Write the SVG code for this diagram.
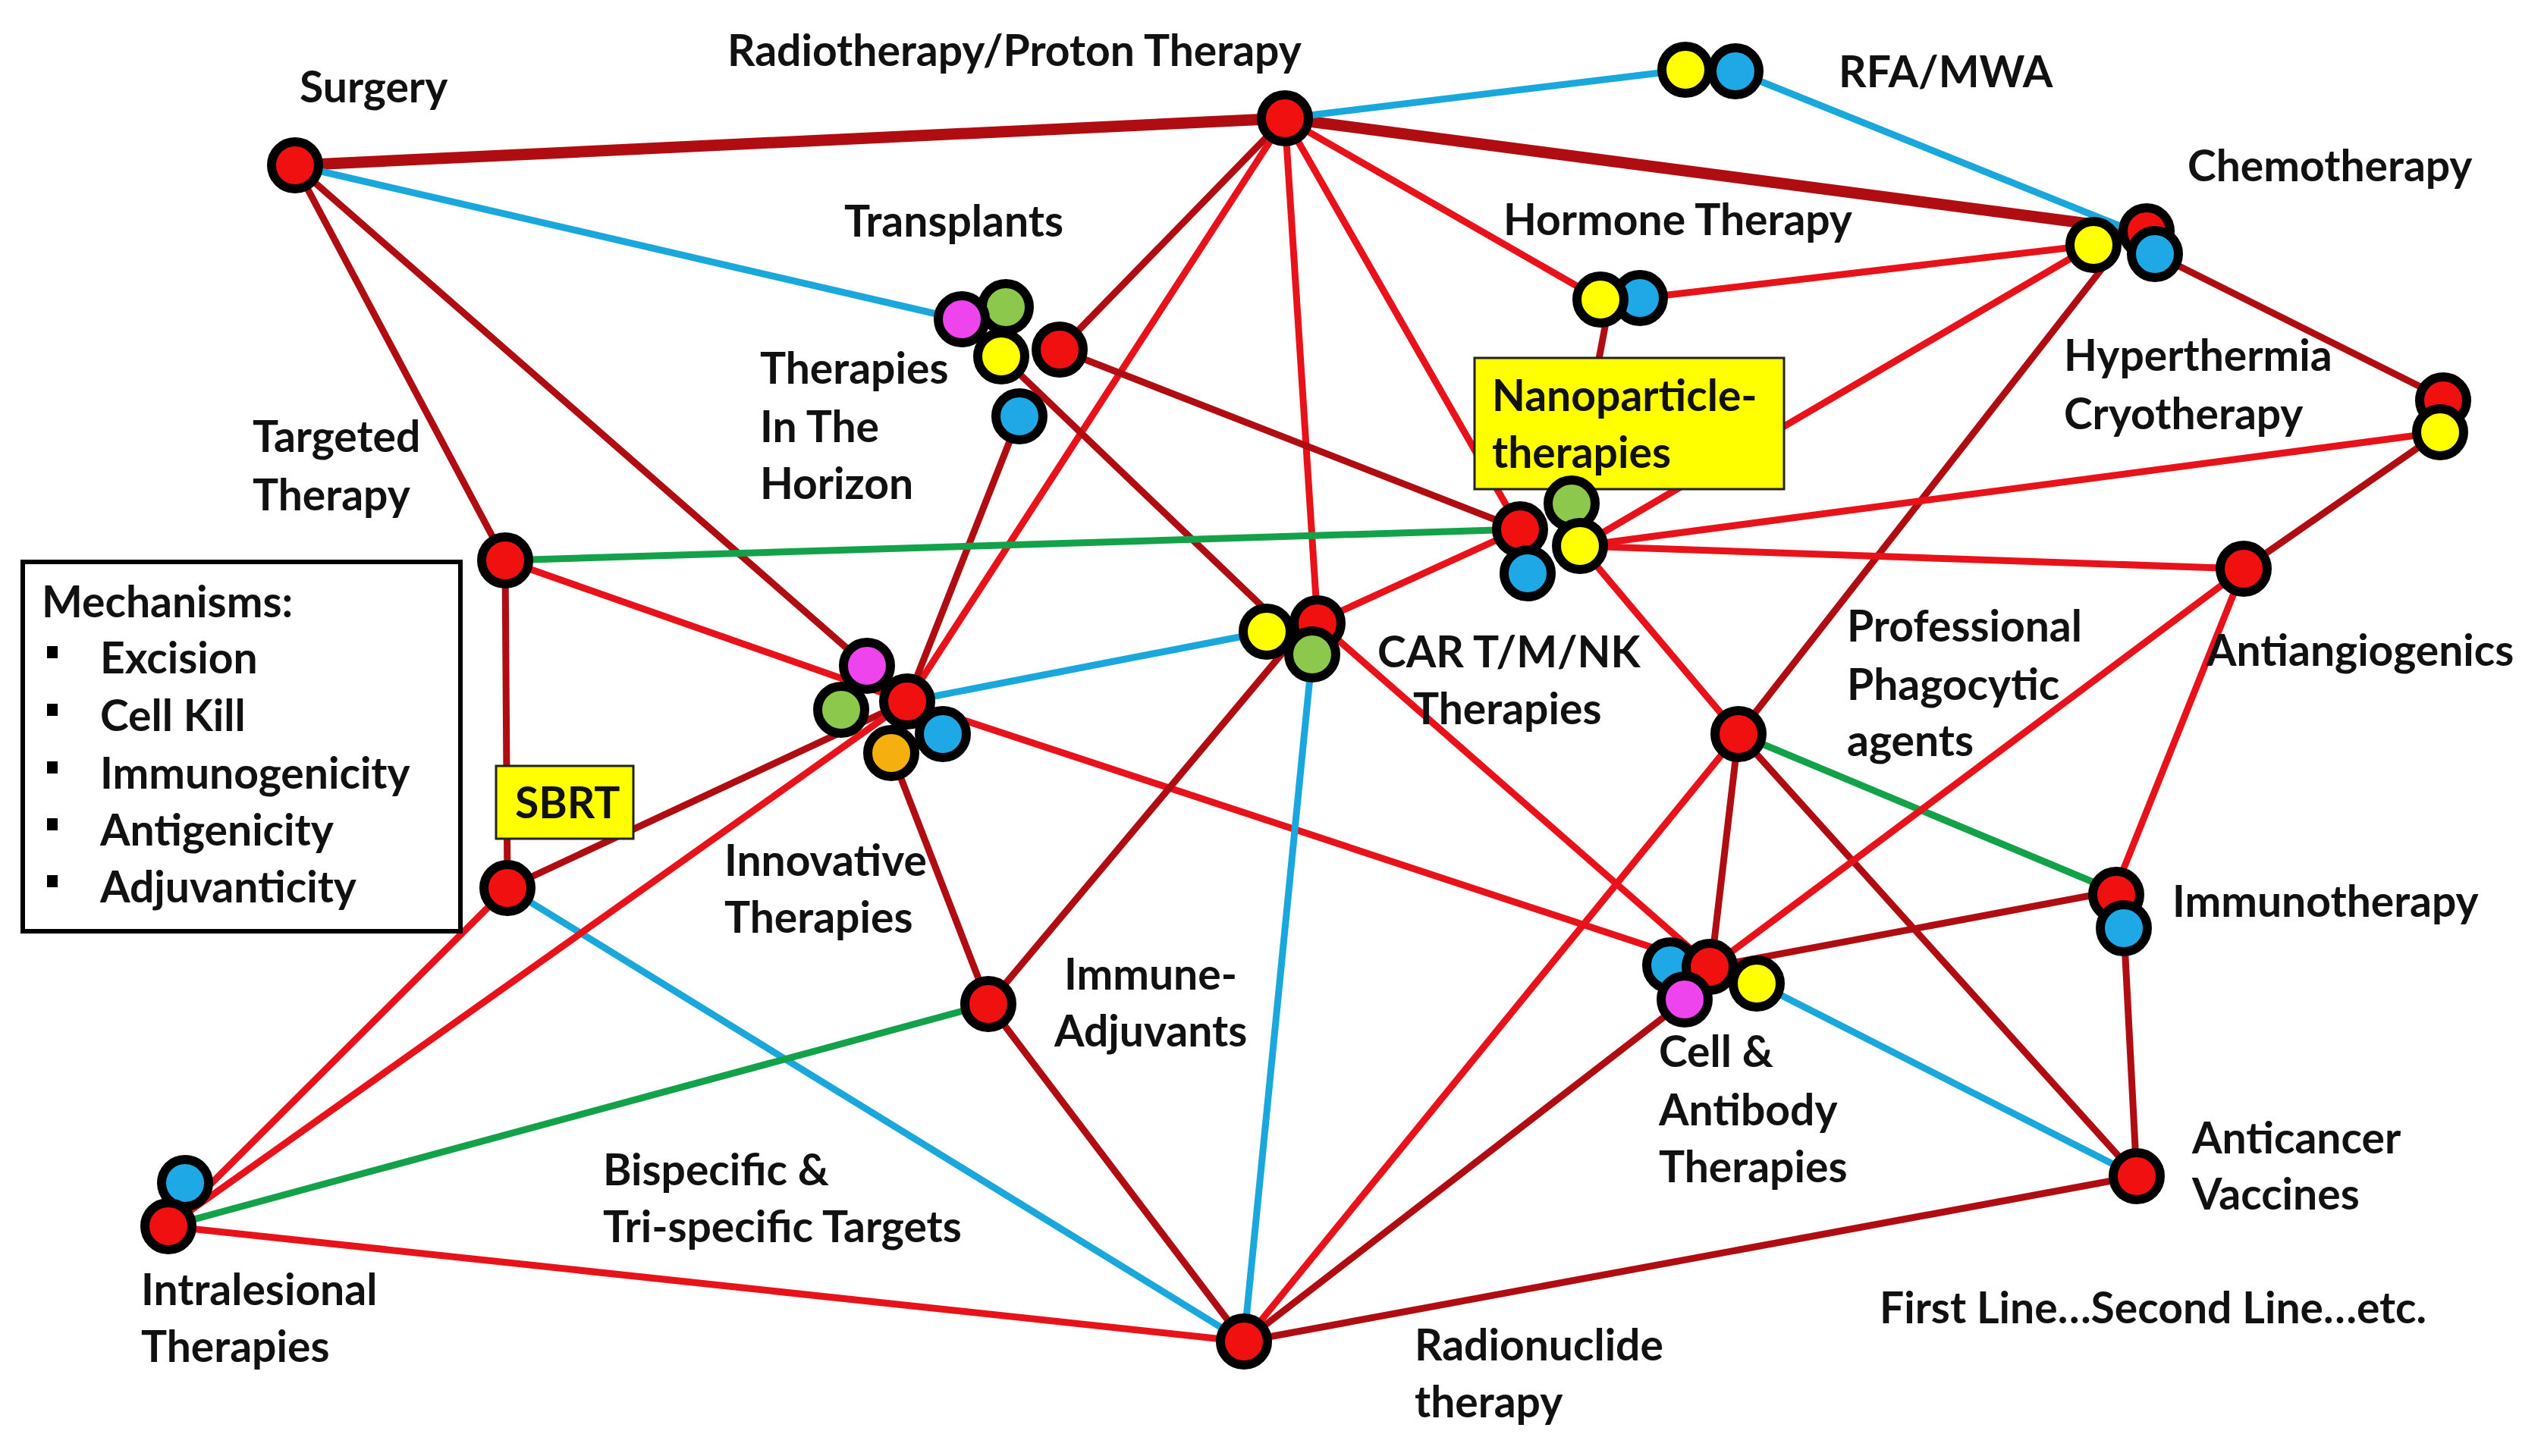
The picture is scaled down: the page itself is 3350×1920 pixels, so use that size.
<svg xmlns="http://www.w3.org/2000/svg" width="3350" height="1920" viewBox="0 0 3350 1920">
<style>
text{font-family:Lato,"Liberation Sans",sans-serif;font-weight:bold;font-size:57px;fill:#111}
.r{stroke:#e8131a;stroke-width:9;fill:none}
.d{stroke:#b00d12;stroke-width:9;fill:none}
.t{stroke:#b00d12;stroke-width:15;fill:none}
.b{stroke:#1aa8dc;stroke-width:9;fill:none}
.g{stroke:#13a24a;stroke-width:9;fill:none}
circle{stroke:#000;stroke-width:12}
.cr{fill:#f01010}.cy{fill:#ffff00}.cb{fill:#1ea9e6}.cg{fill:#8cc84b}.cm{fill:#ee44ee}.co{fill:#f5b010}
.box{fill:#ffff00;stroke:#222;stroke-width:3}
</style>
<rect width="3350" height="1920" fill="#fff"/>
<g id="connectors">
<line class="t" x1="389" y1="218" x2="1694" y2="156"/>
<line class="t" x1="1694" y1="156" x2="2830" y2="305"/>
<line class="b" x1="389" y1="218" x2="1265" y2="421"/>
<line class="d" x1="389" y1="218" x2="666" y2="739"/>
<line class="d" x1="389" y1="218" x2="1143" y2="878"/>
<line class="b" x1="1694" y1="156" x2="2222" y2="92"/>
<line class="b" x1="2288" y1="94" x2="2800" y2="300"/>
<line class="r" x1="1694" y1="156" x2="2110" y2="395"/>
<line class="d" x1="1694" y1="156" x2="1397" y2="461"/>
<line class="r" x1="1694" y1="156" x2="1196" y2="925"/>
<line class="r" x1="1694" y1="156" x2="1737" y2="820"/>
<line class="r" x1="1694" y1="156" x2="2004" y2="698"/>
<line class="r" x1="2164" y1="393" x2="2760" y2="323"/>
<line class="d" x1="2120" y1="410" x2="2072" y2="664"/>
<line class="r" x1="2760" y1="323" x2="2083" y2="720"/>
<line class="d" x1="2790" y1="330" x2="2292" y2="968"/>
<line class="d" x1="2841" y1="335" x2="3221" y2="525"/>
<line class="r" x1="3217" y1="570" x2="2083" y2="720"/>
<line class="d" x1="3217" y1="570" x2="2958" y2="750"/>
<line class="d" x1="1320" y1="470" x2="1730" y2="863"/>
<line class="d" x1="1397" y1="461" x2="2004" y2="698"/>
<line class="d" x1="1344" y1="549" x2="1196" y2="925"/>
<line class="g" x1="666" y1="739" x2="2004" y2="698"/>
<line class="d" x1="666" y1="739" x2="669" y2="1171"/>
<line class="r" x1="666" y1="739" x2="1196" y2="925"/>
<line class="r" x1="1196" y1="925" x2="2256" y2="1275"/>
<line class="d" x1="669" y1="1171" x2="1196" y2="925"/>
<line class="r" x1="669" y1="1171" x2="222" y2="1617"/>
<line class="b" x1="669" y1="1171" x2="1640" y2="1769"/>
<line class="b" x1="1196" y1="925" x2="1670" y2="833"/>
<line class="d" x1="1175" y1="993" x2="1303" y2="1324"/>
<line class="r" x1="1196" y1="925" x2="222" y2="1617"/>
<line class="r" x1="1737" y1="820" x2="2004" y2="698"/>
<line class="d" x1="1700" y1="850" x2="1303" y2="1324"/>
<line class="b" x1="1730" y1="863" x2="1640" y2="1769"/>
<line class="r" x1="1737" y1="820" x2="2256" y2="1275"/>
<line class="r" x1="2083" y1="720" x2="2958" y2="750"/>
<line class="r" x1="2083" y1="720" x2="2292" y2="968"/>
<line class="g" x1="2292" y1="968" x2="2788" y2="1175"/>
<line class="d" x1="2292" y1="968" x2="2256" y2="1275"/>
<line class="r" x1="2292" y1="968" x2="1640" y2="1769"/>
<line class="d" x1="2292" y1="968" x2="2817" y2="1551"/>
<line class="r" x1="2958" y1="750" x2="2256" y2="1275"/>
<line class="r" x1="2958" y1="750" x2="2788" y2="1175"/>
<line class="d" x1="2788" y1="1175" x2="2256" y2="1275"/>
<line class="d" x1="2800" y1="1224" x2="2817" y2="1551"/>
<line class="b" x1="2318" y1="1297" x2="2817" y2="1551"/>
<line class="d" x1="2221" y1="1320" x2="1640" y2="1769"/>
<line class="d" x1="2817" y1="1551" x2="1640" y2="1769"/>
<line class="g" x1="1303" y1="1324" x2="222" y2="1617"/>
<line class="d" x1="1303" y1="1324" x2="1640" y2="1769"/>
<line class="r" x1="222" y1="1617" x2="1640" y2="1769"/>
</g>
<g id="legend">
<rect x="30" y="741" width="577" height="487" fill="#fff" stroke="#000" stroke-width="6"/>
<text x="55" y="814">Mechanisms:</text>
<rect x="62" y="852" width="14" height="16" fill="#000"/><text x="132" y="888">Excision</text>
<rect x="62" y="928" width="14" height="16" fill="#000"/><text x="132" y="964">Cell Kill</text>
<rect x="62" y="1004" width="14" height="16" fill="#000"/><text x="132" y="1040">Immunogenicity</text>
<rect x="62" y="1079" width="14" height="16" fill="#000"/><text x="132" y="1115">Antigenicity</text>
<rect x="62" y="1154" width="14" height="16" fill="#000"/><text x="132" y="1190">Adjuvanticity</text>
</g>
<g id="surgery"><circle class="cr" cx="389" cy="218" r="31"/><text x="395" y="135">Surgery</text></g>
<g id="radiotherapy"><circle class="cr" cx="1694" cy="156" r="31"/><text x="959" y="87">Radiotherapy/Proton Therapy</text></g>
<g id="rfa"><circle class="cy" cx="2222" cy="92" r="31"/><circle class="cb" cx="2288" cy="94" r="31"/><text x="2424" y="115">RFA/MWA</text></g>
<g id="chemo"><circle class="cr" cx="2830" cy="305" r="31"/><circle class="cy" cx="2760" cy="323" r="31"/><circle class="cb" cx="2841" cy="335" r="31"/><text x="2884" y="239">Chemotherapy</text></g>
<g id="hormone"><circle class="cb" cx="2162" cy="393" r="31"/><circle class="cy" cx="2110" cy="395" r="31"/><text x="1982" y="310">Hormone Therapy</text></g>
<g id="hyperthermia"><circle class="cr" cx="3221" cy="528" r="31"/><circle class="cy" cx="3217" cy="570" r="31"/><text x="2721" y="489">Hyperthermia</text><text x="2721" y="566">Cryotherapy</text></g>
<g id="transplants"><circle class="cg" cx="1326" cy="405" r="31"/><circle class="cm" cx="1268" cy="421" r="31"/><circle class="cr" cx="1397" cy="461" r="31"/><circle class="cy" cx="1320" cy="470" r="31"/><circle class="cb" cx="1344" cy="549" r="31"/><text x="1113" y="312">Transplants</text><text x="1002" y="506">Therapies</text><text x="1002" y="583">In The</text><text x="1002" y="658">Horizon</text></g>
<g id="nano"><rect class="box" x="1944" y="472" width="408" height="173"/><text x="1967" y="542">Nanoparticle-</text><text x="1967" y="617">therapies</text><circle class="cg" cx="2072" cy="664" r="31"/><circle class="cr" cx="2004" cy="698" r="31"/><circle class="cy" cx="2083" cy="720" r="31"/><circle class="cb" cx="2014" cy="756" r="31"/></g>
<g id="targeted"><circle class="cr" cx="666" cy="739" r="31"/><text x="333" y="596">Targeted</text><text x="333" y="673">Therapy</text></g>
<g id="sbrt"><circle class="cr" cx="669" cy="1171" r="31"/><rect class="box" x="654" y="1010" width="181" height="96"/><text x="679" y="1079">SBRT</text></g>
<g id="innovative"><circle class="cm" cx="1143" cy="878" r="31"/><circle class="cg" cx="1109" cy="936" r="31"/><circle class="cr" cx="1196" cy="925" r="31"/><circle class="cb" cx="1243" cy="968" r="31"/><circle class="co" cx="1175" cy="993" r="31"/><text x="955" y="1155">Innovative</text><text x="955" y="1230">Therapies</text></g>
<g id="car"><circle class="cr" cx="1737" cy="822" r="31"/><circle class="cy" cx="1670" cy="833" r="31"/><circle class="cg" cx="1730" cy="863" r="31"/><text x="1816" y="880">CAR T/M/NK</text><text x="1863" y="955">Therapies</text></g>
<g id="phagocytic"><circle class="cr" cx="2292" cy="968" r="31"/><text x="2435" y="846">Professional</text><text x="2435" y="923">Phagocytic</text><text x="2435" y="997">agents</text></g>
<g id="antiangiogenics"><circle class="cr" cx="2958" cy="750" r="31"/><text x="2909" y="878">Antiangiogenics</text></g>
<g id="immunotherapy"><circle class="cr" cx="2790" cy="1180" r="31"/><circle class="cb" cx="2800" cy="1224" r="31"/><text x="2864" y="1209">Immunotherapy</text></g>
<g id="cellab"><circle class="cb" cx="2202" cy="1273" r="31"/><circle class="cr" cx="2254" cy="1275" r="31"/><circle class="cm" cx="2221" cy="1318" r="31"/><circle class="cy" cx="2316" cy="1297" r="31"/><text x="2187" y="1407">Cell &amp;</text><text x="2187" y="1484">Antibody</text><text x="2187" y="1559">Therapies</text></g>
<g id="vaccines"><circle class="cr" cx="2817" cy="1551" r="31"/><text x="2890" y="1521">Anticancer</text><text x="2890" y="1595">Vaccines</text></g>
<g id="adjuvants"><circle class="cr" cx="1303" cy="1324" r="31"/><text x="1403" y="1305">Immune-</text><text x="1390" y="1380">Adjuvants</text></g>
<g id="radionuclide"><circle class="cr" cx="1640" cy="1769" r="31"/><text x="1865" y="1794">Radionuclide</text><text x="1865" y="1869">therapy</text></g>
<g id="intralesional"><circle class="cb" cx="244" cy="1560" r="31"/><circle class="cr" cx="222" cy="1617" r="31"/><text x="186" y="1721">Intralesional</text><text x="186" y="1796">Therapies</text></g>
<g id="bispecific"><text x="795" y="1563">Bispecific &amp;</text><text x="795" y="1638">Tri-specific Targets</text></g>
<text x="2478" y="1745">First Line…Second Line…etc.</text>
</svg>
